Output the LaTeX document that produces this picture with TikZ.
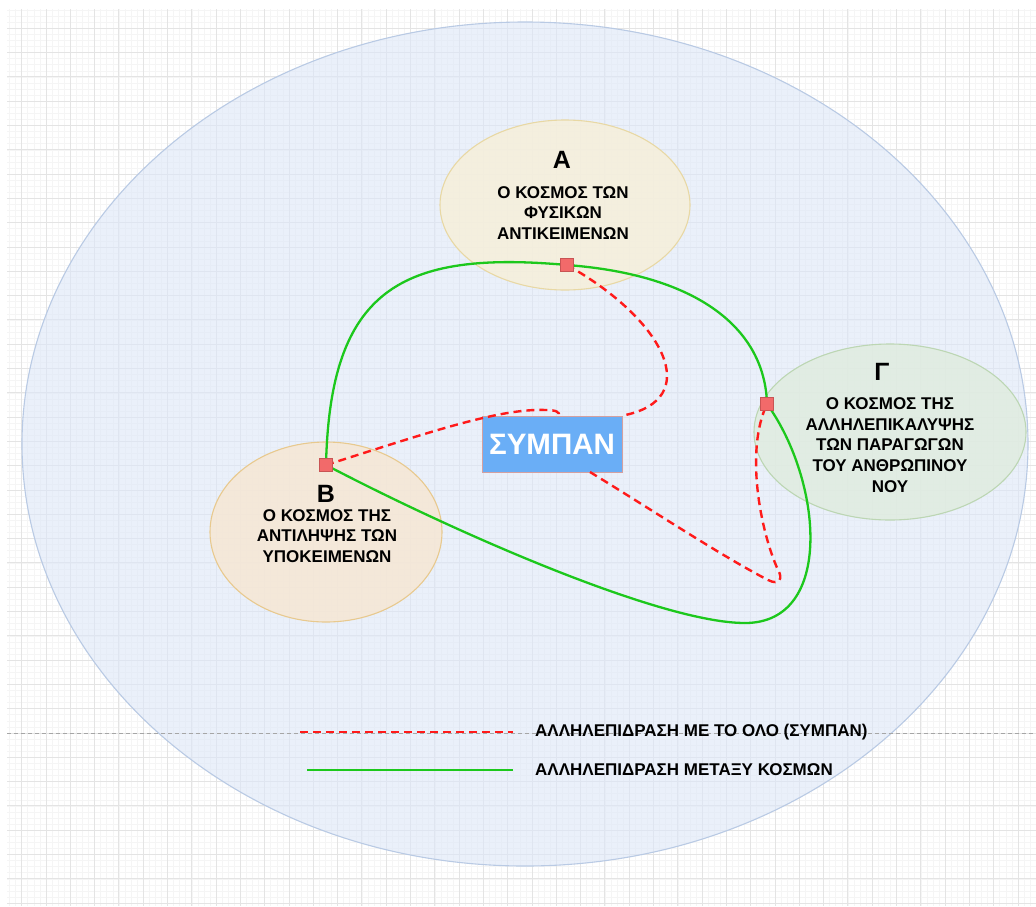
\documentclass[tikz,border=0pt]{standalone}
\usepackage{fontspec}
\setmainfont{Liberation Sans}
\usetikzlibrary{shapes.geometric}
\definecolor{gridmaj}{HTML}{E4E4E4}
\definecolor{gridmin}{HTML}{F5F5F5}
\definecolor{bigfill}{HTML}{DCE7F8}
\definecolor{bigline}{HTML}{B9CAE4}
\definecolor{afill}{HTML}{F6EFDA}
\definecolor{aline}{HTML}{E8D8A4}
\definecolor{gfill}{HTML}{E0ECDF}
\definecolor{gline}{HTML}{BCD6B3}
\definecolor{bfill}{HTML}{F6E7D4}
\definecolor{bline}{HTML}{E8C98E}
\definecolor{redline}{HTML}{FF1A1A}
\definecolor{greenline}{HTML}{1CC81C}
\definecolor{sqfill}{HTML}{F26A6A}
\definecolor{sqline}{HTML}{C85454}
\definecolor{symfill}{HTML}{6AAEF6}
\definecolor{symline}{HTML}{D4A0A0}
\tikzset{
  minorgrid/.style={draw=gridmin, line width=0.6pt},
  majorgrid/.style={draw=gridmaj, line width=0.9pt},
  world/.style={ellipse, draw, line width=1.1pt, fill opacity=0.85, text opacity=1},
  worldlabel/.style={font=\bfseries\fontsize{25}{25}\selectfont},
  worldtext/.style={font=\bfseries\fontsize{17}{20.7}\selectfont, align=center},
  redsq/.style={draw=sqline, fill=sqfill, line width=0.8pt, minimum size=13pt, inner sep=0pt},
  relall/.style={draw=redline, line width=2.4pt, dash pattern=on 8pt off 5pt},
  relworld/.style={draw=greenline, line width=2.3pt},
  legendtext/.style={font=\bfseries\fontsize{17}{18}\selectfont, anchor=west, inner sep=0pt}
}
\begin{document}
\begin{tikzpicture}[x=1pt,y=-1pt]
\useasboundingbox (0,0) rectangle (1036,906);
\fill[white] (0,0) rectangle (1036,906);
% background grid
\begin{scope}
\clip (7,9) rectangle (1036,906);
\foreach \i in {-3,...,168} {\draw[minorgrid] ({21.7+6.075*\i},0) -- ++(0,906);}
\foreach \i in {-5,...,147} {\draw[minorgrid] (0,{28.3+6.075*\i}) -- ++(1036,0);}
\foreach \i in {-1,...,42} {\draw[majorgrid] ({21.7+24.3*\i},0) -- ++(0,906);}
\foreach \i in {-1,...,37} {\draw[majorgrid] (0,{28.3+24.3*\i}) -- ++(1036,0);}
\end{scope}
% universe ellipse
\node[world, draw=bigline, fill=bigfill, fill opacity=0.6, minimum width=1006pt, minimum height=844pt] (univ) at (525,444) {};
% page divider
\coordinate (divl) at (7,733);
\coordinate (divr) at (1036,733);
\draw[draw=gray!70, line width=0.7pt, dash pattern=on 4pt off 3pt] (divl) -- (divr);
% the three worlds
\node[world, draw=aline, fill=afill, minimum width=250pt, minimum height=170pt] (wa) at (565,205) {};
\node[world, draw=gline, fill=gfill, minimum width=272pt, minimum height=176pt] (wg) at (890,432) {};
\node[world, draw=bline, fill=bfill, minimum width=232pt, minimum height=180pt] (wb) at (326,532) {};
% junction squares (positions)
\coordinate (pa) at (567,265);
\coordinate (pg) at (767,404);
\coordinate (pb) at (326,465);
% SYMPAN box
\node[draw=symline, fill=symfill, line width=0.8pt, minimum width=140pt, minimum height=56pt, inner sep=0pt,
      text=white, font=\bfseries\fontsize{29.5}{29.5}\selectfont] (sym) at (552,444) {ΣΥΜΠΑΝ};
\coordinate (symtop) at (559,416);
\coordinate (symout) at (590,472);
% green connectors
\draw[relworld] (pb) .. controls (330,290) and (400,250) .. (pa);
\draw[relworld] (pa) .. controls (700,275) and (765,330) .. (pg);
\draw[relworld] (pg) .. controls (822,480) and (835,623) .. (745,623)
                     .. controls (660,623) and (450,530) .. (pb);
% red dashed connectors
\draw[relall] (pa) .. controls (665,320) and (705,400) .. (sym.north east);
\draw[relall] (pb) .. controls (430,432) and (500,408) .. (546,410)
                   .. controls (556,410) and (560,412) .. (symtop);
\draw[relall] (symout)
              .. controls (660,515) and (720,555) .. (768,580)
              .. controls (780,586) and (783,578) .. (778,570)
              .. controls (760,530) and (745,450) .. (pg);
% squares on top
\node[redsq] (sqa) at (pa) {};
\node[redsq] (sqg) at (pg) {};
\node[redsq] (sqb) at (pb) {};
% texts of worlds
\node[worldlabel] (la) at (562,160) {Α};
\node[worldtext] (ta) at (563,213) {Ο ΚΟΣΜΟΣ ΤΩΝ\\ΦΥΣΙΚΩΝ\\ΑΝΤΙΚΕΙΜΕΝΩΝ};
\node[worldlabel] (lg) at (882,372) {Γ};
\node[worldtext] (tg) at (890,445) {Ο ΚΟΣΜΟΣ ΤΗΣ\\ΑΛΛΗΛΕΠΙΚΑΛΥΨΗΣ\\ΤΩΝ ΠΑΡΑΓΩΓΩΝ\\ΤΟΥ ΑΝΘΡΩΠΙΝΟΥ\\ΝΟΥ};
\node[worldlabel] (lb) at (326,494) {Β};
\node[worldtext] (tb) at (327,536) {Ο ΚΟΣΜΟΣ ΤΗΣ\\ΑΝΤΙΛΗΨΗΣ ΤΩΝ\\ΥΠΟΚΕΙΜΕΝΩΝ};
% legend
\node[legendtext] (leg1) at (535,732) {ΑΛΛΗΛΕΠΙΔΡΑΣΗ ΜΕ ΤΟ ΟΛΟ (ΣΥΜΠΑΝ)};
\node[legendtext] (leg2) at (535,770) {ΑΛΛΗΛΕΠΙΔΡΑΣΗ ΜΕΤΑΞΥ ΚΟΣΜΩΝ};
\coordinate (l1s) at (300,732);
\coordinate (l2s) at (307,770);
\draw[relall] (l1s) -- ([xshift=-22pt]leg1.west);
\draw[relworld] (l2s) -- ([xshift=-22pt]leg2.west);
\end{tikzpicture}
\end{document}
